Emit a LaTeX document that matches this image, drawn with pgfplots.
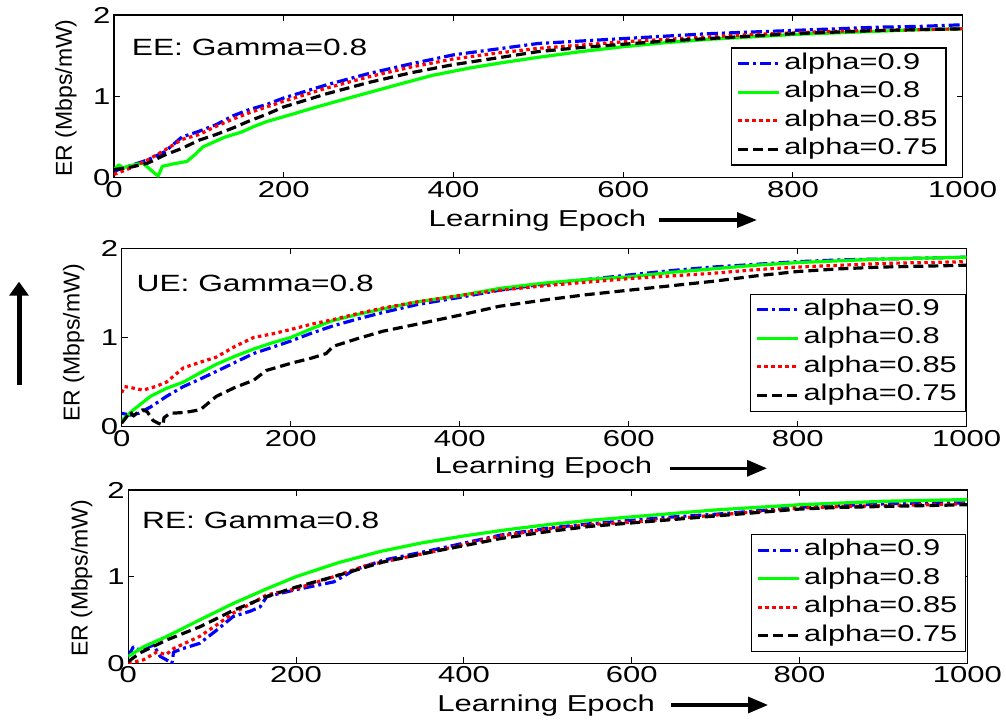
\documentclass[border=0pt]{standalone}
\usepackage{fontspec}
\setmainfont[FakeStretch=1.35]{Liberation Sans}
\newfontfamily\plainsans{Liberation Sans}
\usepackage{pgfplots}
\pgfplotsset{compat=1.18}
\usetikzlibrary{arrows.meta}
\newcommand\tickfont{\fontsize{23}{27}\selectfont}
\newcommand\annfont{\fontsize{23.5}{28}\selectfont}
\newcommand\legfont{\fontsize{22.8}{26}\selectfont}
\newcommand\ylabfont{\plainsans\fontsize{23}{27}\selectfont}
\pgfplotsset{
  panel/.style={
    scale only axis, xmin=0, xmax=1000, ymin=0, ymax=2,
    xtick={0,200,...,1000}, ytick={0,1,2},
    tick align=inside, major tick length=6pt,
    axis line style={line width=1.2pt},
    every tick/.append style={line width=1pt, black},
    tick label style={font=\tickfont},
    /pgf/number format/assume math mode=true,
    /pgf/number format/1000 sep={},
    xlabel={Learning Epoch}, ylabel={ER (Mbps/mW)},
    xlabel style={font=\tickfont, anchor=base},
    ylabel style={font=\ylabfont, anchor=base},
    legend cell align=left,
    legend image code/.code={\draw[##1, line width=3.2pt] (0pt,0pt) -- (41pt,0pt);},
    legend style={font=\legfont, draw=black, line width=1.2pt, anchor=south east,
      inner xsep=5pt, inner ysep=1.5pt, row sep=0pt,
      nodes={inner xsep=3.5pt, inner ysep=3.5pt, text height=16pt, text depth=5.5pt}},
  },
  s09/.style={blue, line width=3.2pt, line join=round, dash pattern=on 11pt off 4pt on 3pt off 4pt},
  s08/.style={green, line width=3.2pt, line join=round},
  s085/.style={red, line width=3.2pt, line join=round, dash pattern=on 3.5pt off 3.5pt},
  s075/.style={black, line width=3.2pt, line join=round, dash pattern=on 10pt off 5pt},
}
\begin{document}
\begin{tikzpicture}
\useasboundingbox (0,0) rectangle (1006pt,720pt);
% ---------------- Panel 1 (EE) ----------------
\begin{axis}[panel, at={(114pt,542.3pt)}, anchor=south west, width=848.7pt, height=162.7pt,
  xlabel style={at={(axis description cs:0.499,-0.302)}},
  ylabel style={at={(axis description cs:-0.0495,0.49)}},
  legend style={at={(0.981,0.074)}}]
\addplot[s09] coordinates {(0,0.08)(20,0.15)(40,0.22)(60,0.32)(80,0.5)(100,0.57)(120,0.65)(140,0.76)(160,0.84)(180,0.9)(200,0.98)(250,1.14)(300,1.28)(350,1.4)(400,1.51)(450,1.58)(500,1.65)(550,1.68)(600,1.71)(650,1.74)(700,1.77)(750,1.79)(800,1.81)(850,1.83)(900,1.85)(950,1.86)(1000,1.88)};
\addlegendentry{alpha=0.9}
\addplot[s08] coordinates {(0,0.1)(6,0.16)(10,0.12)(20,0.15)(34,0.18)(45,0.08)(52,0.02)(57,0.14)(70,0.17)(86,0.2)(95,0.28)(105,0.38)(118,0.44)(131,0.5)(150,0.56)(165,0.63)(180,0.69)(210,0.78)(239,0.87)(270,0.96)(298,1.04)(340,1.16)(376,1.26)(420,1.35)(455,1.41)(500,1.48)(550,1.55)(600,1.61)(650,1.66)(700,1.7)(750,1.73)(800,1.76)(850,1.78)(900,1.8)(950,1.82)(1000,1.83)};
\addlegendentry{alpha=0.8}
\addplot[s085] coordinates {(0,0.04)(20,0.12)(40,0.22)(60,0.34)(80,0.47)(100,0.53)(120,0.63)(140,0.72)(160,0.8)(180,0.87)(200,0.94)(250,1.1)(300,1.24)(350,1.36)(400,1.46)(450,1.53)(500,1.59)(550,1.63)(600,1.67)(650,1.7)(700,1.73)(750,1.76)(800,1.78)(850,1.8)(900,1.81)(950,1.82)(1000,1.83)};
\addlegendentry{alpha=0.85}
\addplot[s075] coordinates {(0,0.1)(20,0.13)(40,0.18)(60,0.28)(80,0.36)(100,0.46)(120,0.53)(140,0.61)(160,0.7)(180,0.78)(200,0.87)(250,1.03)(300,1.17)(350,1.29)(400,1.39)(450,1.47)(500,1.55)(550,1.6)(600,1.64)(650,1.68)(700,1.71)(750,1.74)(800,1.77)(850,1.79)(900,1.81)(950,1.82)(1000,1.83)};
\addlegendentry{alpha=0.75}
\node[anchor=base west, inner sep=0pt, font=\annfont] at (rel axis cs:0.0208,0.748) {EE: Gamma=0.8};
\end{axis}
% ---------------- Panel 2 (UE) ----------------
\begin{axis}[panel, at={(121.7pt,293.3pt)}, anchor=south west, width=845pt, height=178.4pt,
  xlabel style={at={(axis description cs:0.499,-0.263)}},
  ylabel style={at={(axis description cs:-0.0497,0.47)}},
  legend style={at={(0.999,0.084)}}]
\addplot[s09] coordinates {(0,0.15)(10,0.13)(20,0.15)(34,0.22)(53,0.34)(73,0.45)(92,0.53)(112,0.62)(134,0.72)(156,0.82)(178,0.89)(200,0.96)(225,1.05)(250,1.13)(280,1.21)(309,1.28)(350,1.37)(400,1.45)(447,1.53)(500,1.6)(550,1.65)(600,1.7)(650,1.75)(700,1.79)(750,1.82)(800,1.85)(850,1.87)(900,1.88)(950,1.89)(1000,1.9)};
\addlegendentry{alpha=0.9}
\addplot[s08] coordinates {(0,0.07)(14,0.19)(34,0.34)(53,0.43)(73,0.5)(92,0.6)(112,0.7)(134,0.79)(156,0.87)(178,0.94)(200,1.0)(225,1.1)(250,1.19)(280,1.26)(309,1.32)(350,1.4)(400,1.47)(447,1.55)(500,1.61)(550,1.65)(600,1.68)(650,1.73)(700,1.77)(750,1.81)(800,1.84)(850,1.86)(900,1.88)(950,1.89)(1000,1.9)};
\addlegendentry{alpha=0.8}
\addplot[s085] coordinates {(0,0.38)(3,0.45)(10,0.44)(25,0.41)(40,0.45)(53,0.5)(73,0.66)(92,0.72)(112,0.78)(134,0.9)(156,1.0)(178,1.04)(200,1.09)(225,1.15)(250,1.2)(280,1.27)(309,1.33)(350,1.4)(400,1.47)(447,1.53)(500,1.58)(550,1.62)(600,1.66)(650,1.69)(700,1.72)(750,1.76)(800,1.79)(850,1.81)(900,1.83)(950,1.84)(1000,1.85)};
\addlegendentry{alpha=0.85}
\addplot[s075] coordinates {(0,0.04)(5,0.1)(10,0.17)(14,0.12)(20,0.17)(25,0.19)(30,0.17)(37,0.07)(43,0.04)(49,0.02)(50,0.1)(57,0.15)(75,0.16)(93,0.19)(112,0.34)(134,0.44)(156,0.52)(171,0.63)(200,0.71)(225,0.77)(242,0.82)(250,0.9)(280,0.99)(309,1.07)(350,1.15)(400,1.25)(447,1.35)(500,1.42)(550,1.48)(600,1.53)(650,1.58)(700,1.63)(750,1.69)(800,1.74)(850,1.77)(900,1.79)(950,1.8)(1000,1.81)};
\addlegendentry{alpha=0.75}
\node[anchor=base west, inner sep=0pt, font=\annfont] at (rel axis cs:0.0174,0.756) {UE: Gamma=0.8};
\end{axis}
% ---------------- Panel 3 (RE) ----------------
\begin{axis}[panel, at={(128.3pt,56.7pt)}, anchor=south west, width=839pt, height=173.3pt,
  xlabel style={at={(axis description cs:0.498,-0.281)}},
  ylabel style={at={(axis description cs:-0.0485,0.49)}},
  legend style={at={(0.999,0.064)}}]
\addplot[s09] coordinates {(0,0.08)(6,0.19)(14,0.15)(30,0.21)(38,0.08)(49,0.02)(52,0.0)(54,0.13)(65,0.17)(85,0.23)(105,0.38)(125,0.54)(145,0.6)(157,0.65)(165,0.77)(200,0.85)(245,0.94)(270,1.08)(304,1.19)(364,1.31)(444,1.48)(500,1.56)(550,1.61)(600,1.65)(650,1.69)(700,1.72)(750,1.76)(800,1.8)(850,1.82)(900,1.84)(950,1.85)(1000,1.85)};
\addlegendentry{alpha=0.9}
\addplot[s08] coordinates {(0,0.08)(18,0.19)(46,0.31)(85,0.5)(125,0.69)(165,0.86)(200,1.0)(250,1.16)(300,1.29)(350,1.39)(400,1.47)(450,1.54)(500,1.6)(550,1.65)(600,1.69)(650,1.73)(700,1.77)(750,1.8)(800,1.83)(850,1.85)(900,1.87)(950,1.88)(1000,1.89)};
\addlegendentry{alpha=0.8}
\addplot[s085] coordinates {(0,0.0)(18,0.04)(34,0.13)(45,0.1)(54,0.17)(85,0.31)(105,0.44)(125,0.58)(145,0.68)(165,0.79)(200,0.86)(245,1.0)(284,1.13)(364,1.29)(444,1.47)(500,1.55)(550,1.6)(600,1.63)(650,1.67)(700,1.71)(750,1.75)(800,1.79)(850,1.81)(900,1.82)(950,1.83)(1000,1.84)};
\addlegendentry{alpha=0.85}
\addplot[s075] coordinates {(0,0.02)(14,0.12)(46,0.27)(85,0.42)(125,0.61)(165,0.77)(200,0.88)(245,1.0)(304,1.17)(364,1.29)(444,1.44)(500,1.52)(550,1.58)(600,1.62)(650,1.66)(700,1.7)(750,1.74)(800,1.78)(850,1.8)(900,1.81)(950,1.82)(1000,1.83)};
\addlegendentry{alpha=0.75}
\node[anchor=base west, inner sep=0pt, font=\annfont] at (rel axis cs:0.0163,0.779) {RE: Gamma=0.8};
\end{axis}
% ---------------- arrows ----------------
\draw[line width=3.3pt, -{Triangle[length=20pt,width=15pt]}] (659pt,500pt) -- (757pt,500pt);
\draw[line width=3.3pt, -{Triangle[length=20pt,width=16pt]}] (670pt,251.7pt) -- (767pt,251.7pt);
\draw[line width=3.3pt, -{Triangle[length=20pt,width=16pt]}] (671pt,15pt) -- (768pt,15pt);
\draw[line width=5pt, -{Triangle[length=14pt,width=19pt]}] (19pt,335pt) -- (19pt,438.3pt);
\end{tikzpicture}
\end{document}
